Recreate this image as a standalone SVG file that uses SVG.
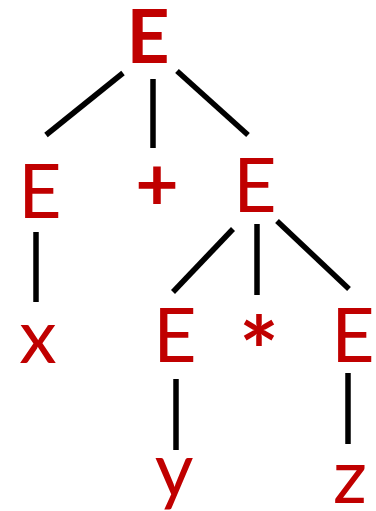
<svg xmlns="http://www.w3.org/2000/svg" width="376" height="511" viewBox="0 0 376 511">
<style>
.t{font-family:Lato,"Open Sans","Liberation Sans",sans-serif;font-size:75px;fill:#C00000;text-anchor:middle}
.b{font-weight:bold}
.e line{stroke:#000;stroke-width:5.5;stroke-linecap:butt}
</style>
<rect width="376" height="511" fill="#fff"/>
<g class="e" id="connectors">
<line x1="123" y1="73" x2="46" y2="135"/>
<line x1="153" y1="79" x2="153" y2="148"/>
<line x1="177" y1="71" x2="248" y2="135"/>
<line x1="36" y1="232" x2="36" y2="302"/>
<line x1="233" y1="229" x2="173" y2="292"/>
<line x1="257" y1="224" x2="257" y2="295"/>
<line x1="277" y1="221" x2="349" y2="289"/>
<line x1="176" y1="379" x2="176" y2="450"/>
<line x1="348" y1="373" x2="348" y2="444"/>
</g>
<g id="n0"><text class="t b" x="148" y="63">E</text></g>
<g id="n1"><text class="t" x="40" y="218">E</text></g>
<g id="n2"><text class="t b" x="157" y="210">+</text></g>
<g id="n3"><text class="t" x="255" y="212">E</text></g>
<g id="n4"><text class="t" x="38" y="363">x</text></g>
<g id="n5"><text class="t" x="175" y="362">E</text></g>
<g id="n6"><text class="t b" x="259" y="385" style="font-size:94px">*</text></g>
<g id="n7"><text class="t" x="353" y="362">E</text></g>
<g id="n8"><text class="t" x="174" y="496">y</text></g>
<g id="n9"><text class="t" x="350" y="503">z</text></g>
</svg>
